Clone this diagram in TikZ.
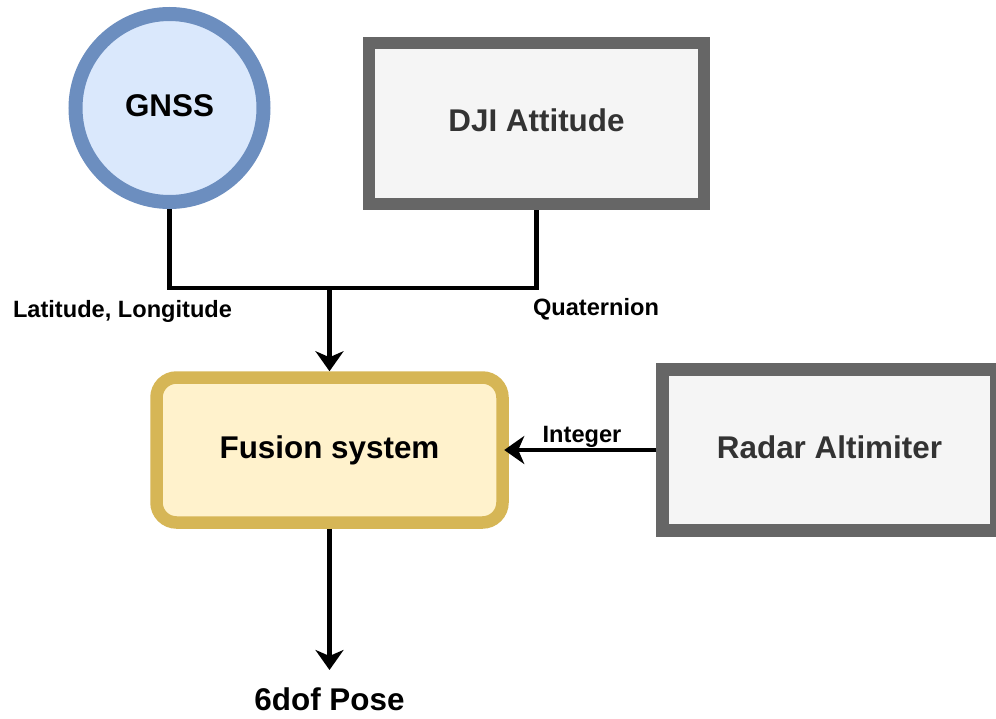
\documentclass[tikz,border=0pt]{standalone}
\usepackage{fontspec}
\setmainfont{Liberation Sans}
\usetikzlibrary{arrows.meta}

\definecolor{gnssfill}{HTML}{DAE8FC}
\definecolor{gnssline}{HTML}{6C8EBF}
\definecolor{greyfill}{HTML}{F5F5F5}
\definecolor{greyline}{HTML}{666666}
\definecolor{greytext}{HTML}{333333}
\definecolor{fusefill}{HTML}{FFF2CC}
\definecolor{fuseline}{HTML}{D6B656}

\begin{document}
\begin{tikzpicture}[x=1pt, y=-1pt,
  bigtext/.style={inner sep=0pt, font=\bfseries\fontsize{31.4}{36}\selectfont,
    text height=22.6pt, text depth=6.6pt},
  smalltext/.style={inner sep=0pt, anchor=base,
    font=\bfseries\fontsize{23.6}{28}\selectfont},
  greybox/.style={bigtext, rectangle, draw=greyline, fill=greyfill,
    text=greytext, minimum height=161pt},
  link/.style={draw=black, line width=4.5pt},
  arrowed/.style={-{Stealth[length=20pt, width=28pt, inset=6pt]}}
]
\useasboundingbox (0,0) rectangle (996,718);

% sources
\node[bigtext, circle, draw=gnssline, fill=gnssfill, line width=14pt,
  minimum size=188pt, outer sep=7pt] (gnss) at (169.5,108) {GNSS};
\node[greybox, line width=12pt, minimum width=335pt, outer sep=6pt]
  (dji) at (536.5,123.5) {DJI Attitude};
\node[greybox, line width=13pt, minimum width=334pt, outer sep=6.5pt]
  (radar) at (829.5,450) {Radar Altimiter};

% fusion block and its output
\node[bigtext, rectangle, rounded corners=20pt, draw=fuseline, fill=fusefill,
  line width=12.5pt, minimum width=346pt, minimum height=145pt,
  outer sep=6.25pt] (fusion) at (329.5,450) {Fusion system};
\node[bigtext, anchor=base, outer ysep=17.4pt] (pose) at (329.5,710) {6dof Pose};

% connectors
\coordinate (join) at (329.5,288);
\draw[link] (gnss.south) |- (join);
\draw[link] (dji.south) |- (join);
\draw[link, arrowed] (join) -- (fusion.north);
\draw[link, arrowed, shorten >=-4.5pt] (radar.west) -- (fusion.east);
\draw[link, arrowed] (fusion.south) -- (pose.north);

% connector labels
\node[smalltext] (latlon) at (122.5,317) {Latitude, Longitude};
\node[smalltext] (quat) at (596,315) {Quaternion};
\node[smalltext] (intlbl) at (582,442) {Integer};
\end{tikzpicture}
\end{document}
